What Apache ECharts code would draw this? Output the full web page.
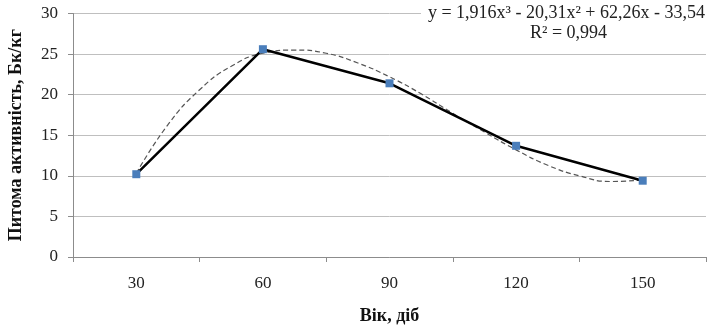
<!DOCTYPE html>
<html><head><meta charset="utf-8">
<script src="https://cdn.jsdelivr.net/npm/echarts@6/dist/echarts.min.js"></script>
<style>html,body{margin:0;padding:0;background:#fff}#c{width:720px;height:330px}</style>
</head><body><div id="c"></div>
<script>
const categories = ['30', '60', '90', '120', '150'];
const activity = [10.2, 25.6, 21.4, 13.7, 9.4];
// dashed trend curve (x in category positions 1..5)
const trendX = [1, 1.25, 1.5, 1.75, 2, 2.25, 2.5, 2.75, 3, 3.25, 3.5, 3.75, 4, 4.25, 4.5, 4.75, 5];
const trendY = [10.3, 16.3, 20.6, 23.5, 25.1, 25.5, 25.1, 23.9, 22.2, 20.1, 17.7, 15.4, 13.2, 11.3, 10.0, 9.3, 9.5];
const yTicks = {min: 0, max: 30, interval: 5};
const eqText = 'y = 1,916x³ - 20,31x² + 62,26x - 33,54';
const r2Text = 'R² = 0,994';
const xTitle = 'Вік, діб';
const yTitle = 'Питома активність, Бк/кг';

const chart = echarts.init(document.getElementById('c'), null, {renderer: 'canvas'});
const serif = '"Liberation Serif", "DejaVu Serif", serif';
chart.setOption({
  animation: false,
  grid: {left: 73, right: 14, top: 13.5, bottom: 73, containLabel: false, outerBoundsMode: 'none'},
  xAxis: [{
    type: 'category', data: categories, boundaryGap: true,
    axisLine: {lineStyle: {color: '#8c8c8c', width: 1}},
    axisTick: {show: true, length: 5, lineStyle: {color: '#8c8c8c'}},
    axisLabel: {color: '#222', fontFamily: serif, fontSize: 17, margin: 18},
    name: xTitle, nameLocation: 'middle', nameGap: 50,
    nameTextStyle: {fontFamily: serif, fontWeight: 'bold', fontSize: 18, color: '#111'}
  }, {
    type: 'value', min: 0.5, max: 5.5, show: false
  }],
  yAxis: {
    type: 'value', min: yTicks.min, max: yTicks.max, interval: yTicks.interval,
    axisLine: {show: true, lineStyle: {color: '#8c8c8c', width: 1}},
    axisTick: {show: true, length: 5, lineStyle: {color: '#8c8c8c'}},
    splitLine: {lineStyle: {color: '#bfbfbf', width: 1}},
    axisLabel: {color: '#222', fontFamily: serif, fontSize: 17, margin: 15},
    name: yTitle, nameLocation: 'middle', nameGap: 48, nameRotate: 90,
    nameTextStyle: {fontFamily: serif, fontWeight: 'bold', fontSize: 18, color: '#111'}
  },
  series: [{
    type: 'line', xAxisIndex: 1, smooth: true, showSymbol: false, z: 3,
    data: trendX.map((x, i) => [x, trendY[i]]),
    lineStyle: {color: '#555', width: 1.2, type: [5, 3]}
  }, {
    type: 'line', data: activity, symbol: 'rect', symbolSize: 8, z: 4,
    lineStyle: {color: '#000', width: 2.5},
    itemStyle: {color: '#4a7ebb'}
  }],
  graphic: [{
    type: 'rect', shape: {x: 421, y: 4, width: 290, height: 20}, style: {fill: '#fff'}, z: 10
  }, {
    type: 'text', right: 15, top: 4, z: 11,
    style: {text: eqText, font: '18px ' + serif, fill: '#222'}
  }, {
    type: 'text', left: 530, top: 24, z: 11,
    style: {text: r2Text, font: '18px ' + serif, fill: '#222'}
  }]
});
</script></body></html>
